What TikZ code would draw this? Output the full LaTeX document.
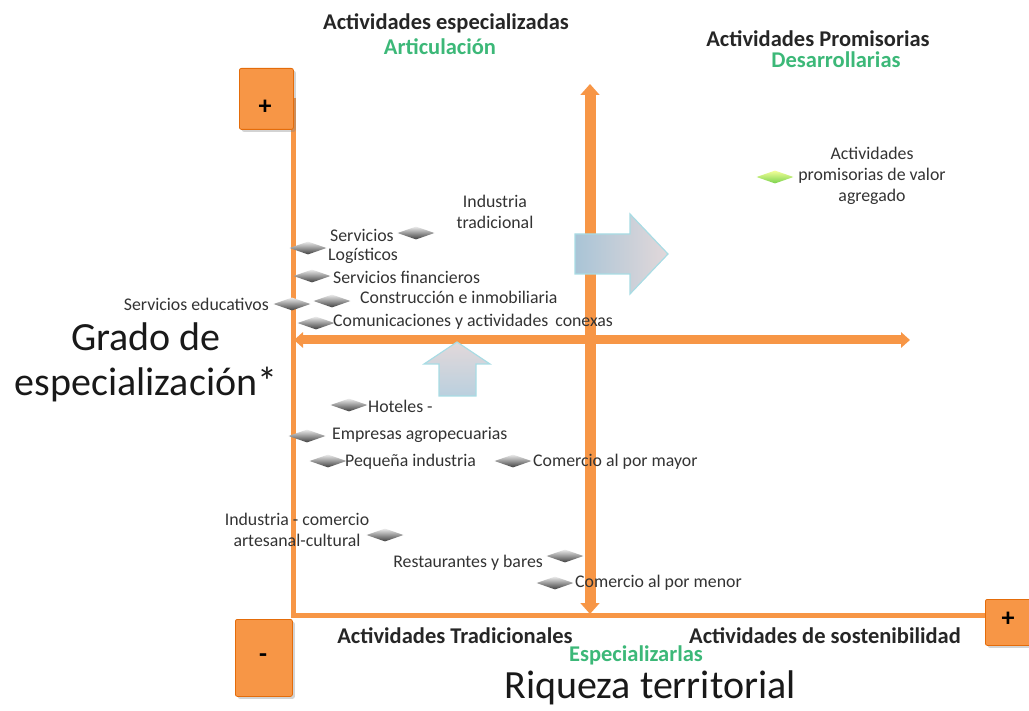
\documentclass[tikz,border=0pt]{standalone}
\usepackage{fontspec}
\setmainfont{Carlito}
\usetikzlibrary{arrows.meta,shapes.geometric,shadows}
\definecolor{org}{HTML}{F79646}
\definecolor{orgd}{HTML}{E46C0A}
\definecolor{grn}{HTML}{3CB878}
\definecolor{txt}{HTML}{333333}
\definecolor{bluegr}{HTML}{A9C4D6}
\definecolor{pinkgr}{HTML}{E2D8DA}
\definecolor{cyanb}{HTML}{A8DCE4}
\tikzset{
  lbl/.style={font=\fontsize{17.8}{21}\selectfont, text=txt, inner sep=0pt},
  ttl/.style={font=\bfseries\fontsize{22.5}{24}\selectfont, text=black!85, inner sep=0pt},
  gtl/.style={font=\bfseries\fontsize{22.5}{24}\selectfont, text=grn, inner sep=0pt},
  big/.style={font=\fontsize{40}{45}\selectfont, text=black!90, inner sep=0pt, align=center},
  dia/.style={diamond, minimum width=37pt, minimum height=13pt, inner sep=0pt, top color=gray!15, bottom color=black!75, draw=none},
  gdia/.style={diamond, minimum width=37pt, minimum height=13pt, inner sep=0pt, top color=green!10!yellow!40, bottom color=green!50!olive!70, draw=none},
  pbox/.style={fill=org, draw=orgd, line width=0.8pt, rounded corners=2pt, drop shadow={opacity=0.35}},
  sign/.style={font=\bfseries\fontsize{26}{26}\selectfont, inner sep=0pt},
  axis/.style={draw=org, line width=5pt},
  dblarrow/.style={draw=org, line width=#1, {Triangle[width=1.7*#1,length=1.0*#1]}-{Triangle[width=1.7*#1,length=1.0*#1]}},
  blk/.style={left color=bluegr, right color=pinkgr, draw=cyanb, line width=1.2pt}
}
\begin{document}
\begin{tikzpicture}[x=1pt,y=-1pt]
\useasboundingbox (0,0) rectangle (1029,711);
% axes
\coordinate (ltop) at (293,98);
\coordinate (orig) at (293,615);
\coordinate (rend) at (988,615);
\draw[axis] (ltop) -- (orig) -- (rend);
% double arrows
\coordinate (vtop) at (590,84);
\coordinate (vbot) at (590,614);
\coordinate (hl) at (294,340);
\coordinate (hr) at (910,340);
\draw[dblarrow=11pt] (vtop) -- (vbot);
\draw[dblarrow=9pt] (hl) -- (hr);
% boxes
\node[pbox, minimum width=54pt, minimum height=61pt, anchor=north west] (plus1) at (239,68) {};
\node[sign] (plus1t) at (265,107) {+};
\node[pbox, minimum width=57pt, minimum height=77pt, anchor=north west] (minus) at (235,619) {};
\node[sign] (minust) at (263,658) {-};
\node[pbox, minimum width=48pt, minimum height=46pt, anchor=north west] (plus2) at (985,599) {};
\node[sign] (plus2t) at (1008,619) {+};
% block arrows
\path[blk] (575,234) -- (630,234) -- (630,214) -- (668,254) -- (630,294) -- (630,274) -- (575,274) -- cycle;
\node[inner sep=0pt] (rarrow) at (620,254) {};
\path[blk, top color=pinkgr, bottom color=bluegr!80] (457,342) -- (490,364) -- (476,364) -- (476,396) -- (439,396) -- (439,364) -- (424,364) -- cycle;
\node[inner sep=0pt] (uarrow) at (457,370) {};
% titles
\node[ttl] (t1) at (446,23) {Actividades especializadas};
\node[gtl] (t1g) at (440,47) {Articulación};
\node[ttl] (t2) at (818,39) {Actividades Promisorias};
\node[gtl] (t2g) at (836,60) {Desarrollarias};
\node[ttl] (t3) at (455,636) {Actividades Tradicionales};
\node[ttl] (t4) at (825,636) {Actividades de sostenibilidad};
\node[gtl] (t5) at (636,655) {Especializarlas};
\node[big] (gy) at (146,362) {Grado de\\especialización*};
\node[big] (gx) at (650,688) {Riqueza territorial};
% promisorias
\node[gdia] (dprom) at (775,177) {};
\node[lbl, align=center] (lprom) at (872,176) {Actividades\\promisorias de valor\\agregado};
% items
\node[lbl, align=center] (lind) at (495,212) {Industria\\tradicional};
\node[dia] (d1) at (416,233) {};
\node[lbl, anchor=west] (l1) at (330,235) {Servicios};
\node[dia] (d2) at (308,248) {};
\node[lbl, anchor=west] (l2) at (328,256) {Logísticos};
\node[dia] (d3) at (312,276) {};
\node[lbl, anchor=west] (l3) at (333,277) {Servicios financieros};
\node[dia] (d4) at (292,304) {};
\node[lbl, anchor=east] (l4) at (269,304) {Servicios educativos};
\node[dia] (d5) at (332,301) {};
\node[lbl, anchor=west] (l5) at (360,297) {Construcción e inmobiliaria};
\node[dia] (d6) at (316,323) {};
\node[lbl, anchor=west] (l6) at (333,322) {Comunicaciones y actividades\, conexas};
\node[dia] (d7) at (349,405) {};
\node[lbl, anchor=west] (l7) at (368,406) {Hoteles -};
\node[dia] (d8) at (307,436) {};
\node[lbl, anchor=west] (l8) at (332,435) {Empresas agropecuarias};
\node[dia] (d9) at (328,461) {};
\node[lbl, anchor=west] (l9) at (345,462) {Pequeña industria};
\node[dia] (d10) at (513,461) {};
\node[lbl, anchor=west] (l10) at (533,462) {Comercio al por mayor};
\node[lbl, align=center] (l11) at (297,530) {Industria - comercio\\artesanal-cultural};
\node[dia] (d11) at (385,535) {};
\node[lbl, anchor=east] (l12) at (543,563) {Restaurantes y bares};
\node[dia] (d12) at (565,556) {};
\node[dia] (d13) at (555,583) {};
\node[lbl, anchor=west] (l13) at (575,583) {Comercio al por menor};
\end{tikzpicture}
\end{document}
